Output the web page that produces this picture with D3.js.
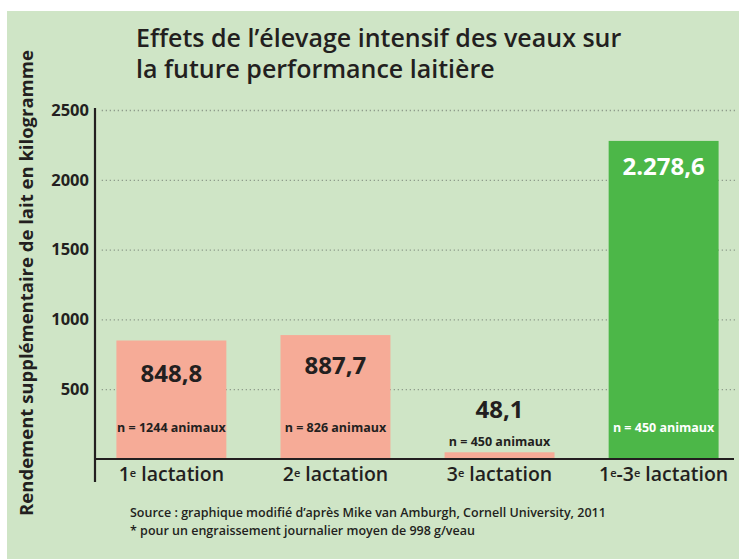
<!DOCTYPE html>
<html>
<head>
<meta charset="utf-8">
<script src="https://cdn.jsdelivr.net/npm/d3@7"></script>
<style>
  body { margin: 0; background: #fff; }
  svg { display: block; font-family: "Open Sans", Lato, sans-serif; }
</style>
</head>
<body>
<script>
// data
const categories = ['1e lactation', '2e lactation', '3e lactation', '1e-3e lactation']
const values = [848.8, 887.7, 48.1, 2278.6]
const valueLabels = ['848,8', '887,7', '48,1', '2.278,6']
const countLabels = ['n = 1244 animaux', 'n = 826 animaux', 'n = 450 animaux', 'n = 450 animaux']
const yTicks = [500, 1000, 1500, 2000, 2500]

const W = 739, H = 559
const dark = '#231f20'

const svg = d3.select('body').append('svg')
  .attr('width', W)
  .attr('height', H)

// panel background
svg.append('rect')
  .attr('x', 7).attr('y', 11)
  .attr('width', W - 7).attr('height', H - 11)
  .attr('fill', '#cfe5c6')

const xScale = d3.scaleBand()
  .domain(categories)
  .range([100, 735])
  .paddingInner(0.33)
  .paddingOuter(0.1)

const yScale = d3.scaleLinear()
  .domain([0, 2500])
  .range([459, 110])

// dotted grid
const grid = svg.append('g')
  .attr('transform', `translate(${735},0)`)
  .call(d3.axisLeft(yScale).tickValues(yTicks).tickSize(635).tickFormat(''))
grid.select('.domain').remove()
grid.selectAll('line')
  .attr('stroke', '#8f9c8c')
  .attr('stroke-width', 1.3)
  .attr('stroke-dasharray', '1.3 2.7')

// tick labels
const yAxis = svg.append('g')
  .attr('transform', 'translate(89,0)')
  .call(d3.axisLeft(yScale).tickValues(yTicks).tickSize(0).tickPadding(0).tickFormat(d3.format('d')))
yAxis.select('.domain').remove()
yAxis.selectAll('text')
  .attr('fill', dark)
  .style('font-size', '16.5px')
  .style('font-weight', 700)
  .style('font-family', '"Open Sans", sans-serif')

// bars
svg.append('g').selectAll('rect')
  .data(values)
  .join('rect')
  .attr('x', (d, i) => xScale(categories[i]))
  .attr('width', xScale.bandwidth())
  .attr('y', d => yScale(d))
  .attr('height', d => yScale(0) - yScale(d))
  .attr('fill', (d, i) => i === 3 ? '#4cb748' : '#f6ab97')

// axis lines
svg.append('line')
  .attr('x1', 95).attr('x2', 734)
  .attr('y1', yScale(0)).attr('y2', yScale(0))
  .attr('stroke', dark).attr('stroke-width', 2.2)
svg.append('line')
  .attr('x1', 95).attr('x2', 95)
  .attr('y1', yScale(2500) - 2).attr('y2', yScale(0) + 23)
  .attr('stroke', dark).attr('stroke-width', 2.2)

// value labels
const cx = i => xScale(categories[i]) + xScale.bandwidth() / 2
const valueY = [382, 374, 418, 175]
const countY = [432, 432, 446, 432]
svg.append('g').selectAll('text')
  .data(valueLabels)
  .join('text')
  .attr('x', (d, i) => cx(i))
  .attr('y', (d, i) => valueY[i])
  .attr('text-anchor', 'middle')
  .attr('fill', (d, i) => i === 3 ? '#fff' : dark)
  .style('font-size', '24px')
  .style('font-weight', 700)
  .text(d => d)

svg.append('g').selectAll('text')
  .data(countLabels)
  .join('text')
  .attr('x', (d, i) => cx(i))
  .attr('y', (d, i) => countY[i])
  .attr('text-anchor', 'middle')
  .attr('fill', (d, i) => i === 3 ? '#fff' : dark)
  .style('font-size', '12.5px')
  .style('font-weight', 700)
  .text(d => d)

// category labels with superscript "e"
const catText = svg.append('g').selectAll('text')
  .data(categories)
  .join('text')
  .attr('x', (d, i) => cx(i))
  .attr('y', 481)
  .attr('text-anchor', 'middle')
  .attr('fill', dark)
  .style('font-size', '19.5px')
  .style('font-weight', 600)
catText.each(function(d) {
  const t = d3.select(this)
  d.split(/(e)(?=[ -])/).forEach(part => {
    if (part === 'e') {
      t.append('tspan').attr('baseline-shift', '38%').style('font-size', '11px').text('e')
    } else {
      t.append('tspan').text(part)
    }
  })
})

// title
const title = svg.append('text')
  .attr('fill', dark)
  .style('font-size', '25px')
  .style('font-weight', 600)
title.append('tspan').attr('x', 136).attr('y', 47).text('Effets de l’élevage intensif des veaux sur')
title.append('tspan').attr('x', 136).attr('y', 78).text('la future performance laitière')

// y axis title
svg.append('text')
  .attr('transform', 'translate(33,283) rotate(-90)')
  .attr('text-anchor', 'middle')
  .attr('fill', dark)
  .style('font-size', '18.5px')
  .style('font-weight', 700)
  .text('Rendement supplémentaire de lait en kilogramme')

// source lines
svg.append('text')
  .attr('x', 130).attr('y', 517)
  .attr('fill', dark)
  .style('font-size', '12.5px')
  .style('font-weight', 600)
  .text('Source : graphique modifié d’après Mike van Amburgh, Cornell University, 2011')
svg.append('text')
  .attr('x', 130).attr('y', 535)
  .attr('fill', dark)
  .style('font-size', '12.5px')
  .style('font-weight', 600)
  .text('* pour un engraissement journalier moyen de 998 g/veau')
</script>
</body>
</html>
